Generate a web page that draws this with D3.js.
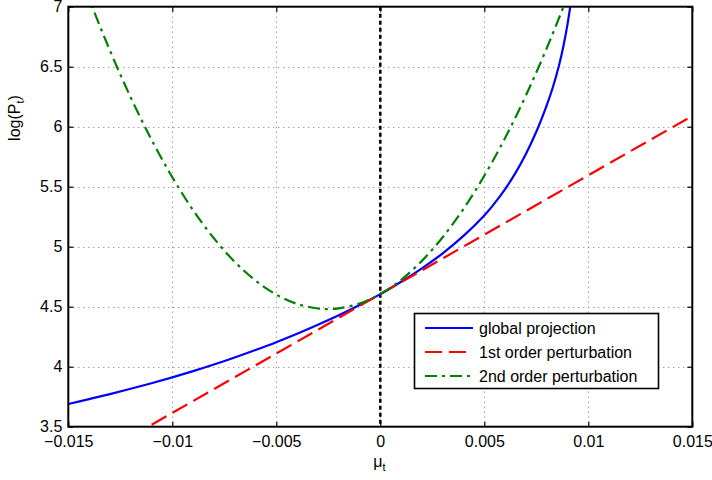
<!DOCTYPE html>
<html>
<head>
<meta charset="utf-8">
<script src="https://cdn.jsdelivr.net/npm/d3@7"></script>
<style>
  html, body { margin: 0; padding: 0; background: #fff; }
  svg { display: block; font-family: "Liberation Sans", Arial, Helvetica, sans-serif; }
</style>
</head>
<body>
<svg id="chart" width="712" height="480"></svg>
<script>
// Growth rate μ_t (x) against log price level log(P_t) (y)
const muTicks = [-0.015, -0.01, -0.005, 0, 0.005, 0.01, 0.015];
const logPTicks = [3.5, 4, 4.5, 5, 5.5, 6, 6.5, 7];

// Global projection solution
const globalMu = [-0.015, -0.014, -0.013, -0.012, -0.011, -0.010, -0.009, -0.008, -0.007, -0.006,
  -0.005, -0.004, -0.003, -0.002, -0.001, 0, 0.001, 0.002, 0.003, 0.004, 0.005, 0.0055, 0.006,
  0.0065, 0.007, 0.0075, 0.008, 0.0083, 0.0086, 0.0088, 0.009, 0.0092];
const globalLogP = [3.689, 3.730, 3.772, 3.816, 3.862, 3.911, 3.963, 4.018, 4.077, 4.139,
  4.204, 4.274, 4.349, 4.428, 4.514, 4.605, 4.708, 4.820, 4.945, 5.090, 5.260, 5.363, 5.480,
  5.615, 5.773, 5.958, 6.178, 6.331, 6.517, 6.669, 6.853, 7.083];

// First-order perturbation (linear)
const firstMu = [-0.015, 0.015];
const firstLogP = [3.120, 6.090];

// Second-order perturbation (quadratic)
const secondMu = [-0.015, -0.014, -0.013, -0.012, -0.011, -0.010, -0.009, -0.008, -0.007, -0.006,
  -0.005, -0.004, -0.003, -0.0025, -0.002, -0.001, 0, 0.001, 0.002, 0.003, 0.004, 0.005, 0.006,
  0.007, 0.008, 0.009, 0.010];
const secondLogP = [7.538, 7.067, 6.636, 6.244, 5.892, 5.579, 5.304, 5.070, 4.874, 4.718,
  4.601, 4.523, 4.485, 4.480, 4.486, 4.526, 4.605, 4.724, 4.882, 5.079, 5.315, 5.591, 5.906,
  6.260, 6.654, 7.086, 7.560];

const seriesNames = ["global projection", "1st order perturbation", "2nd order perturbation"];
const seriesColors = ["#0000ff", "#ff0000", "#008000"];
const seriesDash = [null, "17,7", "12,5,3,5"];

const svg = d3.select("#chart");
const plot = { left: 68.3, right: 692.3, top: 6.7, bottom: 426.7 };
const fontSize = 16;

const x = d3.scaleLinear().domain([-0.015, 0.015]).range([plot.left, plot.right]);
const y = d3.scaleLinear().domain([3.5, 7]).range([plot.bottom, plot.top]);

const fmt = v => v === 0 ? "0" : (v < 0 ? "\u2212" : "") + String(Math.abs(+v.toFixed(4)));

svg.append("defs").append("clipPath").attr("id", "plotClip")
  .append("rect")
  .attr("x", plot.left).attr("y", plot.top)
  .attr("width", plot.right - plot.left).attr("height", plot.bottom - plot.top);

// Dotted grid
const grid = svg.append("g").attr("stroke", "#7a7a7a").attr("stroke-width", 1).attr("stroke-dasharray", "1,4");
grid.selectAll("line.gx").data(muTicks.slice(1, -1)).join("line")
  .attr("x1", d => Math.round(x(d)) + 0.5).attr("x2", d => Math.round(x(d)) + 0.5)
  .attr("y1", plot.top).attr("y2", plot.bottom);
grid.selectAll("line.gy").data(logPTicks.slice(1, -1)).join("line")
  .attr("y1", d => Math.round(y(d)) + 0.5).attr("y2", d => Math.round(y(d)) + 0.5)
  .attr("x1", plot.left).attr("x2", plot.right);

// Curves
const lineGen = d3.line().x(d => x(d[0])).y(d => y(d[1])).curve(d3.curveCatmullRom.alpha(0.5));
const series = [
  d3.zip(globalMu, globalLogP),
  d3.zip(firstMu, firstLogP),
  d3.zip(secondMu, secondLogP)
];
const curves = svg.append("g").attr("clip-path", "url(#plotClip)");

// Vertical reference line at μ = 0
curves.append("line")
  .attr("x1", x(0)).attr("x2", x(0)).attr("y1", plot.top).attr("y2", plot.bottom)
  .attr("stroke", "#000").attr("stroke-width", 2.5).attr("stroke-dasharray", "4,3");

series.forEach((pts, i) => {
  curves.append("path")
    .datum(pts)
    .attr("d", lineGen)
    .attr("fill", "none")
    .attr("stroke", seriesColors[i])
    .attr("stroke-width", 2.2)
    .attr("stroke-dasharray", seriesDash[i]);
});

// Axes with inward ticks
const axisFont = g => g.selectAll("text").attr("font-size", fontSize).attr("fill", "#000")
  .attr("font-family", "'Liberation Sans', Arial, sans-serif");
const cleanAxis = g => {
  g.select(".domain").remove();
  g.selectAll(".tick line").attr("stroke", "#000").attr("stroke-width", 1.2);
};

svg.append("g").attr("transform", `translate(0,${plot.bottom})`)
  .call(d3.axisBottom(x).tickValues(muTicks).tickFormat(fmt).tickSizeInner(-5).tickSizeOuter(0).tickPadding(9))
  .call(cleanAxis).call(axisFont);
svg.append("g").attr("transform", `translate(0,${plot.top})`)
  .call(d3.axisTop(x).tickValues(muTicks).tickFormat("").tickSizeInner(-5).tickSizeOuter(0))
  .call(cleanAxis);
svg.append("g").attr("transform", `translate(${plot.left},0)`)
  .call(d3.axisLeft(y).tickValues(logPTicks).tickFormat(d => String(d)).tickSizeInner(-5).tickSizeOuter(0).tickPadding(6))
  .call(cleanAxis).call(axisFont);
svg.append("g").attr("transform", `translate(${plot.right},0)`)
  .call(d3.axisRight(y).tickValues(logPTicks).tickFormat("").tickSizeInner(-5).tickSizeOuter(0))
  .call(cleanAxis);

// Axes box
svg.append("rect")
  .attr("x", plot.left).attr("y", plot.top)
  .attr("width", plot.right - plot.left).attr("height", plot.bottom - plot.top)
  .attr("fill", "none").attr("stroke", "#000").attr("stroke-width", 2);

// Axis labels
const xl = svg.append("text").attr("x", x(0) - 7).attr("y", 467)
  .attr("font-size", fontSize).attr("text-anchor", "start");
xl.append("tspan").text("\u03bc");
xl.append("tspan").attr("font-size", 11).attr("dy", 4).text("t");

const yl = svg.append("text").attr("transform", "translate(20,118) rotate(-90)")
  .attr("font-size", fontSize).attr("text-anchor", "middle");
yl.append("tspan").text("log(P");
yl.append("tspan").attr("font-size", 11).attr("dy", 4).text("t");
yl.append("tspan").attr("dy", -4).text(")");

// Legend
const legend = svg.append("g");
legend.append("rect")
  .attr("x", 414.5).attr("y", 313.5).attr("width", 244).attr("height", 75)
  .attr("fill", "#fff").attr("stroke", "#000").attr("stroke-width", 1.6);
seriesNames.forEach((name, i) => {
  const cy = 328 + i * 24;
  legend.append("line")
    .attr("x1", 425).attr("x2", 473).attr("y1", cy).attr("y2", cy)
    .attr("stroke", seriesColors[i]).attr("stroke-width", 2.2)
    .attr("stroke-dasharray", seriesDash[i]);
  legend.append("text")
    .attr("x", 479).attr("y", cy).attr("dy", "0.35em")
    .attr("font-size", fontSize).text(name);
});
</script>
</body>
</html>
